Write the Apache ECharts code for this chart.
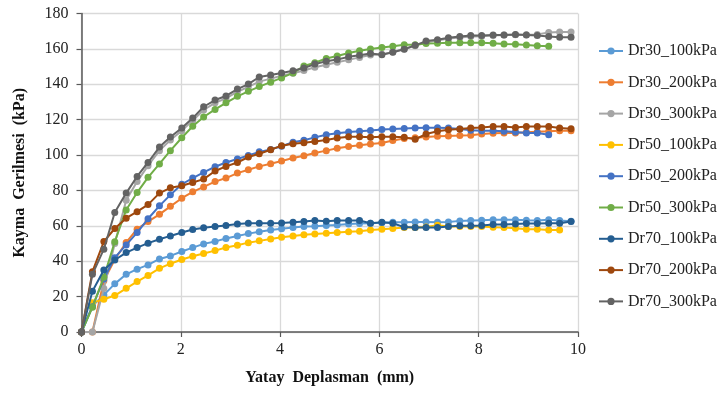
<!DOCTYPE html>
<html>
<head>
<meta charset="utf-8">
<script src="https://cdn.jsdelivr.net/npm/echarts@6/dist/echarts.min.js"></script>
<style>
html,body{margin:0;padding:0;background:#fff;}
#chart{width:725px;height:394px;}
</style>
</head>
<body>
<div id="chart"></div>
<script>
// Horizontal displacement (mm) at each sample index
var xs = [0, 0.22, 0.45, 0.67, 0.90, 1.12, 1.34, 1.57, 1.79, 2.02, 2.24, 2.46, 2.69, 2.91, 3.14, 3.36, 3.58, 3.81, 4.03, 4.26, 4.48, 4.70, 4.93, 5.15, 5.38, 5.60, 5.82, 6.05, 6.27, 6.50, 6.72, 6.94, 7.17, 7.39, 7.62, 7.84, 8.06, 8.29, 8.51, 8.74, 8.96, 9.18, 9.41, 9.63, 9.86];

var seriesNames = ['Dr30_100kPa','Dr30_200kPa','Dr30_300kPa','Dr50_100kPa','Dr50_200kPa','Dr50_300kPa','Dr70_100kPa','Dr70_200kPa','Dr70_300kPa'];
var seriesColors = ['#5B9BD5','#ED7D31','#A5A5A5','#FFC000','#4472C4','#70AD47','#255E91','#9E480E','#636363'];

var dr30_100 = [0, 14.7, 21, 27.2, 32.6, 35.5, 37.9, 41.3, 43, 45.5, 47.7, 49.8, 51.2, 52.8, 54.2, 55.6, 56.6, 57.6, 58.3, 59, 59.6, 59.8, 60.2, 60.5, 61, 61.3, 61.5, 61.7, 62, 62, 62.2, 62.2, 62, 62.2, 62.8, 63, 63.2, 63.4, 63.5, 63.5, 63.2, 63, 63.4, 63, 62.6];
var dr30_200 = [0, 0, 29, 41, 50.6, 58.1, 62.4, 66.5, 71, 75.6, 79.2, 82, 85, 87, 89.8, 91.7, 93.6, 95.1, 96.6, 98.3, 99.6, 101.2, 102.5, 103.8, 104.8, 105.6, 106.3, 106.8, 108.2, 109.4, 109.8, 110.2, 110.6, 110.8, 111, 111.2, 111.9, 112.3, 112.5, 112.5, 112.9, 113.2, 113.4, 113.7, 113.7];
var dr30_300 = [0, 0, 24.6, 50, 74.4, 85, 94, 102.5, 108.5, 113.8, 119.5, 125.5, 129.5, 132, 135.8, 138.5, 141.5, 143.2, 144.8, 146.2, 147.8, 149.6, 151, 152.5, 153.8, 155.2, 156.5, 156.9, 158.2, 160, 161.8, 163.8, 164.8, 165.8, 166.5, 167, 167.2, 167.6, 167.8, 168, 168, 168.2, 169.2, 169.6, 169.6];
var dr50_100 = [null, 16.6, 18.5, 20.6, 24.7, 28.5, 32, 36, 38.6, 41, 42.8, 44.4, 46, 47.8, 49, 50.5, 51.5, 52.6, 53.5, 54.3, 55, 55.4, 55.8, 56.3, 56.6, 57, 57.6, 58.1, 58.5, 59, 59, 59.4, 60.4, 59.6, 59.6, 59.6, 59.6, 59.2, 59, 58.7, 58.1, 58.1, 57.7, 57.7];
var dr50_200 = [0, 14.3, 30, 42, 49.2, 56.2, 64, 71.3, 77.5, 83.5, 87, 90.2, 93.4, 95.8, 97.8, 99.8, 101.8, 103.2, 105, 107.2, 108.4, 110, 111.5, 112.3, 113, 113.4, 113.9, 114.5, 114.7, 115, 115.3, 115.5, 115.5, 115.3, 114.7, 114, 113.7, 113.7, 113.4, 113, 112.5, 112.5, 111.5];
var dr50_300 = [0, 14, 31, 51, 69, 78.8, 87.4, 95, 102.5, 109.8, 116.3, 121.5, 125.8, 129.5, 133.2, 136, 138.7, 141.2, 143.6, 146.4, 150.3, 152.2, 154.6, 156, 157.7, 159, 160, 160.8, 161.5, 162.3, 162.4, 163.1, 163.2, 163.5, 163.5, 163.5, 163.5, 163.2, 162.8, 162.6, 162.2, 161.8, 161.5];
var dr70_100 = [0, 23, 35, 40.7, 44.9, 47.7, 50.2, 52.4, 54.3, 56.2, 57.9, 58.9, 59.6, 60.2, 61, 61.4, 61.5, 61.5, 61.6, 62, 62.4, 63, 62.6, 63, 63, 63, 61.5, 62, 61.5, 59.3, 59, 59, 59, 59.6, 60, 60, 60.2, 60.8, 60.8, 61, 61.3, 61.3, 61.5, 61.5, 62.4];
var dr70_200 = [0, 34.1, 51.1, 58.5, 64.3, 68, 72, 78.5, 81.5, 82.7, 84.5, 86.4, 91, 93.6, 95.8, 98.9, 100.7, 103, 105.3, 106.4, 107, 107.7, 108.5, 109.6, 110.4, 110.4, 110, 110.4, 110.4, 110, 108.9, 111.9, 113.4, 114.3, 114.7, 115.3, 115.6, 116.2, 116.2, 115.6, 116.2, 116.2, 116.2, 115.3, 114.9];
var dr70_300 = [0, 32.6, 46.8, 67.5, 78.5, 87.9, 95.8, 104.5, 110.2, 115.3, 120.9, 127.3, 131.1, 133.4, 137.3, 140.1, 144.1, 145.2, 146.4, 147.6, 149.2, 151.4, 153, 154, 155.5, 156.4, 157.4, 156.7, 158.1, 159.8, 162, 164.4, 165.2, 166.3, 167, 167.5, 167.5, 167.9, 167.9, 168.1, 167.9, 167.5, 167, 166.6, 166.6];

var xTicks = [0, 2, 4, 6, 8, 10];
var yTicks = [0, 20, 40, 60, 80, 100, 120, 140, 160, 180];

var allValues = [dr30_100, dr30_200, dr30_300, dr50_100, dr50_200, dr50_300, dr70_100, dr70_200, dr70_300];

var FONT = '"Liberation Serif", "Times New Roman", serif';

var series = allValues.map(function (vals, k) {
  var pts = [];
  for (var i = 0; i < vals.length; i++) {
    if (vals[i] !== null) pts.push([xs[i], vals[i]]);
  }
  return {
    name: seriesNames[k],
    type: 'line',
    data: pts,
    symbol: 'circle',
    symbolSize: 7,
    showSymbol: true,
    lineStyle: { width: 2, color: seriesColors[k] },
    itemStyle: { color: seriesColors[k] },
    animation: false,
    z: 2 + k
  };
});

var chart = echarts.init(document.getElementById('chart'), null, { renderer: 'canvas' });
chart.setOption({
  backgroundColor: '#ffffff',
  animation: false,
  color: seriesColors,
  grid: { left: 81.5, right: 147, top: 13.5, bottom: 62, containLabel: false },
  legend: {
    orient: 'vertical',
    left: 593,
    top: 38,
    padding: 5,
    itemWidth: 24,
    itemHeight: 9,
    itemGap: 15.3,
    data: seriesNames,
    textStyle: { fontFamily: FONT, fontSize: 16, color: '#222' }
  },
  xAxis: {
    type: 'value',
    min: xTicks[0],
    max: xTicks[xTicks.length - 1],
    interval: 2,
    name: 'Yatay  Deplasman  (mm)',
    nameLocation: 'middle',
    nameGap: 38,
    nameTextStyle: { fontFamily: FONT, fontSize: 16, fontWeight: 'bold', color: '#111' },
    axisLine: { show: true, onZero: false, lineStyle: { color: '#595959', width: 1.5 } },
    axisTick: { show: true, inside: false, length: 5, lineStyle: { color: '#595959', width: 1.2 } },
    axisLabel: { fontFamily: FONT, fontSize: 16, color: '#222', margin: 10 },
    splitLine: { show: true, lineStyle: { color: '#D9D9D9', width: 1.3 } }
  },
  yAxis: {
    type: 'value',
    min: yTicks[0],
    max: yTicks[yTicks.length - 1],
    interval: 20,
    name: 'Kayma  Gerilmesi  (kPa)',
    nameLocation: 'middle',
    nameGap: 54,
    nameTextStyle: { fontFamily: FONT, fontSize: 16, fontWeight: 'bold', color: '#111' },
    axisLine: { show: true, lineStyle: { color: '#595959', width: 1.5 } },
    axisTick: { show: true, inside: false, length: 5, lineStyle: { color: '#595959', width: 1.2 } },
    axisLabel: { fontFamily: FONT, fontSize: 16, color: '#222', margin: 13 },
    splitLine: { show: true, lineStyle: { color: '#D9D9D9', width: 1.3 } }
  },
  series: series
});
</script>
</body>
</html>
